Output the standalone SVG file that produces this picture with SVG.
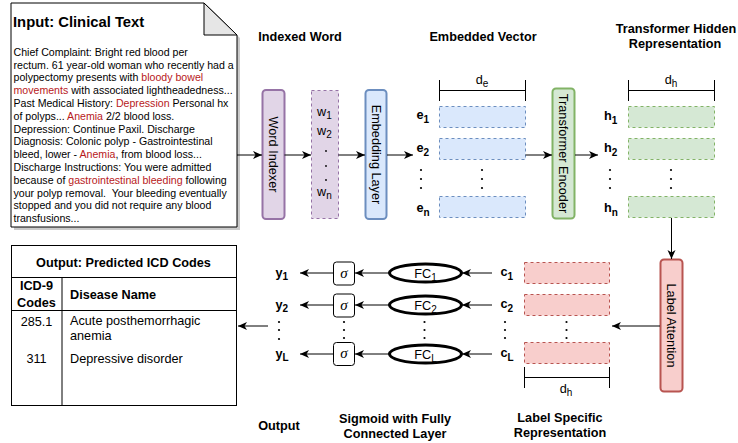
<svg xmlns="http://www.w3.org/2000/svg" width="738" height="443" viewBox="0 0 738 443">
<defs>
<marker id="arr" markerUnits="userSpaceOnUse" markerWidth="10" markerHeight="8" refX="9" refY="4" orient="auto" overflow="visible">
<path d="M0,0 L9,4 L0,8 L2.5,4 Z" fill="#000"/>
</marker>
</defs>
<style>
text{font-family:"Liberation Sans",Arial,sans-serif;fill:#000}
.body{font-size:10.6px}
.red{fill:#b8191b}
.h{font-size:12.7px;font-weight:bold;text-anchor:middle}
.t{font-size:12.7px}
.tb{font-size:12.7px;font-weight:bold}
.sub{font-size:10px}
.c{text-anchor:middle}
.ln{stroke:#000;stroke-width:1;fill:none}
.dash{stroke-width:1;stroke-dasharray:3,3}
.dot{fill:#000}
.sig{font-family:"Liberation Serif","Times New Roman",serif;font-style:italic;font-size:15px;text-anchor:middle}
</style>

<g id="clinical-text">
<path d="M14,6 L206,6 L240,38 L240,230 L14,230 Z" fill="#b3b3b3" opacity="0.7"/>
<path d="M11,3 L204,3 L237,35 L237,227 L11,227 Z" fill="#fff" stroke="#000" stroke-width="1"/>
<path d="M204,3 L204,35 L237,35 Z" fill="#e6e6e6" stroke="#000" stroke-width="1"/>
<text x="13" y="27" style="font-size:14.8px;font-weight:bold">Input: Clinical Text</text>
<text class="body" x="13.5" y="55.7">Chief Complaint: Bright red blood per</text>
<text class="body" x="13.5" y="68.5">rectum. 61 year-old woman who recently had a</text>
<text class="body" x="13.5" y="81.3">polypectomy presents with <tspan class="red">bloody bowel</tspan></text>
<text class="body" x="13.5" y="94.1"><tspan class="red">movements</tspan> with associated lightheadedness...</text>
<text class="body" x="13.5" y="106.9">Past Medical History: <tspan class="red">Depression</tspan> Personal hx</text>
<text class="body" x="13.5" y="119.7">of polyps... <tspan class="red">Anemia</tspan> 2/2 blood loss.</text>
<text class="body" x="13.5" y="132.5">Depression: Continue Paxil. Discharge</text>
<text class="body" x="13.5" y="145.3">Diagnosis: Colonic polyp - Gastrointestinal</text>
<text class="body" x="13.5" y="158.1">bleed, lower - <tspan class="red">Anemia</tspan>, from blood loss...</text>
<text class="body" x="13.5" y="170.9">Discharge Instructions: You were admitted</text>
<text class="body" x="13.5" y="183.7">because of <tspan class="red">gastrointestinal bleeding</tspan> following</text>
<text class="body" x="13.5" y="196.5" xml:space="preserve">your polyp removal.  Your bleeding eventually</text>
<text class="body" x="13.5" y="209.3">stopped and you did not require any blood</text>
<text class="body" x="13.5" y="222.1">transfusions...</text>
</g>

<g id="headings">
<text class="h" x="300" y="40.5">Indexed Word</text>
<text class="h" x="483" y="40.5">Embedded Vector</text>
<text class="h" x="676" y="33">Transformer Hidden</text>
<text class="h" x="675" y="48">Representation</text>
<text class="h" x="279" y="429.5">Output</text>
<text class="h" x="395" y="423">Sigmoid with Fully</text>
<text class="h" x="395" y="438">Connected Layer</text>
<text class="h" x="560" y="422">Label Specific</text>
<text class="h" x="560" y="437">Representation</text>
</g>

<g id="word-indexer">
<rect x="262.5" y="90" width="22" height="129" rx="3.5" fill="#e1d5e7" stroke="#9673a6" stroke-width="2"/>
<text class="t c" transform="translate(273.5,154.5) rotate(90)" x="0" y="4.5">Word Indexer</text>
</g>

<g id="indexed-words">
<rect x="311.5" y="90.5" width="27" height="128" fill="#e1d5e7" stroke="#9673a6" class="dash"/>
<text class="t" x="317" y="116">w<tspan class="sub" dy="3">1</tspan></text>
<text class="t" x="317" y="135">w<tspan class="sub" dy="3">2</tspan></text>
<circle class="dot" cx="326" cy="151" r="0.9"/>
<circle class="dot" cx="326" cy="166" r="0.9"/>
<circle class="dot" cx="326" cy="180" r="0.9"/>
<text class="t" x="317" y="196">w<tspan class="sub" dy="3">n</tspan></text>
</g>

<g id="embedding-layer">
<rect x="365.5" y="90" width="21" height="129" rx="3.5" fill="#dae8fc" stroke="#6c8ebf" stroke-width="2"/>
<text class="t c" transform="translate(376,154.5) rotate(90)" x="0" y="4.5">Embedding Layer</text>
</g>

<g id="embedded-vectors">
<path class="ln" d="M439.5,80 V101 M439.5,90.5 H525.5 M525.5,80 V101"/>
<text class="t c" x="482" y="84">d<tspan class="sub" dy="3">e</tspan></text>
<rect x="439.5" y="106.5" width="86" height="21" fill="#dae8fc" stroke="#6c8ebf" class="dash"/>
<rect x="439.5" y="138.5" width="86" height="21" fill="#dae8fc" stroke="#6c8ebf" class="dash"/>
<rect x="439.5" y="196.5" width="86" height="21" fill="#dae8fc" stroke="#6c8ebf" class="dash"/>
<text class="tb" x="416.5" y="119">e<tspan class="sub" dy="3.5">1</tspan></text>
<text class="tb" x="416.5" y="152">e<tspan class="sub" dy="3.5">2</tspan></text>
<text class="tb" x="416.5" y="212">e<tspan class="sub" dy="3.5">n</tspan></text>
<circle class="dot" cx="421" cy="170" r="1.1"/>
<circle class="dot" cx="421" cy="179" r="1.1"/>
<circle class="dot" cx="421" cy="188" r="1.1"/>
<circle class="dot" cx="482" cy="170" r="1.1"/>
<circle class="dot" cx="482" cy="179" r="1.1"/>
<circle class="dot" cx="482" cy="188" r="1.1"/>
</g>

<g id="transformer-encoder">
<rect x="552.5" y="88.5" width="22" height="130" rx="3.5" fill="#d5e8d4" stroke="#82b366" stroke-width="2"/>
<text class="t c" transform="translate(563.5,153.5) rotate(90)" x="0" y="4.5">Transformer Encoder</text>
</g>

<g id="hidden-representation">
<path class="ln" d="M628.5,80 V101 M628.5,90.5 H714.5 M714.5,80 V101"/>
<text class="t c" x="671" y="84">d<tspan class="sub" dy="3">h</tspan></text>
<rect x="628.5" y="106.5" width="86" height="21" fill="#d5e8d4" stroke="#82b366" class="dash"/>
<rect x="628.5" y="138.5" width="86" height="21" fill="#d5e8d4" stroke="#82b366" class="dash"/>
<rect x="628.5" y="196.5" width="86" height="21" fill="#d5e8d4" stroke="#82b366" class="dash"/>
<text class="tb" x="604" y="120">h<tspan class="sub" dy="3.5">1</tspan></text>
<text class="tb" x="604" y="152">h<tspan class="sub" dy="3.5">2</tspan></text>
<text class="tb" x="604" y="212">h<tspan class="sub" dy="3.5">n</tspan></text>
<circle class="dot" cx="610" cy="170" r="1.1"/>
<circle class="dot" cx="610" cy="179" r="1.1"/>
<circle class="dot" cx="610" cy="188" r="1.1"/>
<circle class="dot" cx="671" cy="170" r="1.1"/>
<circle class="dot" cx="671" cy="179" r="1.1"/>
<circle class="dot" cx="671" cy="188" r="1.1"/>
</g>

<g id="label-attention">
<rect x="660.5" y="259.5" width="22" height="132" rx="3.5" fill="#f8cecc" stroke="#b85450" stroke-width="2"/>
<text class="t c" transform="translate(671.5,325.5) rotate(90)" x="0" y="4.5">Label Attention</text>
</g>

<g id="label-specific-representation">
<rect x="524.5" y="262.5" width="85" height="21" fill="#f8cecc" stroke="#b85450" class="dash"/>
<rect x="524.5" y="294.5" width="85" height="21" fill="#f8cecc" stroke="#b85450" class="dash"/>
<rect x="524.5" y="342.5" width="85" height="21" fill="#f8cecc" stroke="#b85450" class="dash"/>
<path class="ln" d="M524.5,367 V388 M524.5,377.5 H609.5 M609.5,367 V388"/>
<text class="t c" x="566" y="393">d<tspan class="sub" dy="3">h</tspan></text>
<text class="tb" x="500.5" y="276">c<tspan class="sub" dy="3.5">1</tspan></text>
<text class="tb" x="500.5" y="308">c<tspan class="sub" dy="3.5">2</tspan></text>
<text class="tb" x="500.5" y="357">c<tspan class="sub" dy="3.5">L</tspan></text>
<circle class="dot" cx="505" cy="322" r="1.1"/>
<circle class="dot" cx="505" cy="330" r="1.1"/>
<circle class="dot" cx="505" cy="338" r="1.1"/>
<circle class="dot" cx="566.5" cy="322" r="1.1"/>
<circle class="dot" cx="566.5" cy="330" r="1.1"/>
<circle class="dot" cx="566.5" cy="338" r="1.1"/>
</g>

<g id="fully-connected">
<ellipse cx="425.5" cy="273" rx="36" ry="9" fill="#fff" stroke="#000" stroke-width="3"/>
<text class="t c" x="425.5" y="277.5">FC<tspan class="sub" dy="3">1</tspan></text>
<ellipse cx="425.5" cy="305" rx="36" ry="9" fill="#fff" stroke="#000" stroke-width="3"/>
<text class="t c" x="425.5" y="309.5">FC<tspan class="sub" dy="3">2</tspan></text>
<ellipse cx="425.5" cy="354" rx="36" ry="9" fill="#fff" stroke="#000" stroke-width="3"/>
<text class="t c" x="425.5" y="358.5">FC<tspan class="sub" dy="3">L</tspan></text>
<circle class="dot" cx="424.5" cy="322" r="1.1"/>
<circle class="dot" cx="424.5" cy="330" r="1.1"/>
<circle class="dot" cx="424.5" cy="338" r="1.1"/>
</g>

<g id="sigmoid">
<rect x="333.5" y="262" width="21" height="23" rx="3" fill="#fff" stroke="#000"/>
<text class="sig" x="344" y="277.5">σ</text>
<rect x="333.5" y="294" width="21" height="23" rx="3" fill="#fff" stroke="#000"/>
<text class="sig" x="344" y="309.5">σ</text>
<rect x="333.5" y="342.5" width="21" height="23" rx="3" fill="#fff" stroke="#000"/>
<text class="sig" x="344" y="358">σ</text>
<circle class="dot" cx="344" cy="322" r="1.1"/>
<circle class="dot" cx="344" cy="330" r="1.1"/>
<circle class="dot" cx="344" cy="338" r="1.1"/>
</g>

<g id="outputs">
<text class="tb" x="275.5" y="276.5">y<tspan class="sub" dy="3.5">1</tspan></text>
<text class="tb" x="275.5" y="308.5">y<tspan class="sub" dy="3.5">2</tspan></text>
<text class="tb" x="275.5" y="357.5">y<tspan class="sub" dy="3.5">L</tspan></text>
<circle class="dot" cx="279" cy="322" r="1.1"/>
<circle class="dot" cx="279" cy="330" r="1.1"/>
<circle class="dot" cx="279" cy="339" r="1.1"/>
</g>

<g id="predicted-codes">
<rect x="11.5" y="245.5" width="225" height="160" fill="#fff" stroke="#000"/>
<path class="ln" d="M11.5,277.5 H236.5 M11.5,310.5 H236.5 M62,277.5 V405.5"/>
<text class="h" x="123.5" y="267">Output: Predicted ICD Codes</text>
<text class="h" x="36.5" y="289.5">ICD-9</text>
<text class="h" x="36.5" y="307">Codes</text>
<text class="tb" x="70" y="298.5">Disease Name</text>
<text class="t c" x="36.5" y="326">285.1</text>
<text class="t" x="70" y="325">Acute posthemorrhagic</text>
<text class="t" x="70" y="340">anemia</text>
<text class="t c" x="36.5" y="363">311</text>
<text class="t" x="70" y="363">Depressive disorder</text>
</g>

<g id="connectors" class="ln" marker-end="url(#arr)">
<path d="M237,155 H262"/>
<path d="M284.5,155 H311"/>
<path d="M338.5,155 H365"/>
<path d="M387,155 H413"/>
<path d="M525.5,155 H552"/>
<path d="M575,155 H598"/>
<path d="M671.5,218 V259"/>
<path d="M660,326 H612"/>
<path d="M492,273 H462"/>
<path d="M492,305 H462"/>
<path d="M492,354 H462"/>
<path d="M389,273 H355"/>
<path d="M389,305 H355"/>
<path d="M389,354 H355"/>
<path d="M333,273 H300"/>
<path d="M333,305 H300"/>
<path d="M333,354 H300"/>
<path d="M268,326 H238"/>
</g>
</svg>
